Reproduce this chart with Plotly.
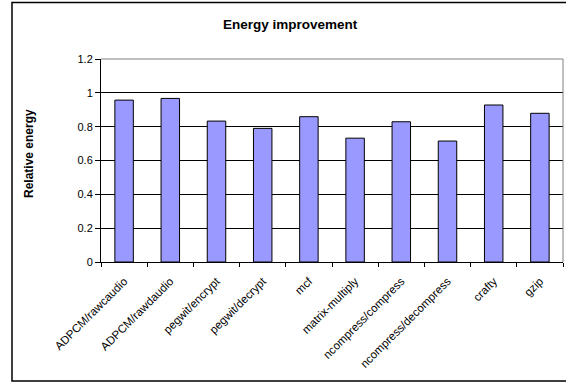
import plotly.graph_objects as go

categories = ["ADPCM/rawcaudio", "ADPCM/rawdaudio", "pegwit/encrypt", "pegwit/decrypt",
              "mcf", "matrix-multiply", "ncompress/compress", "ncompress/decompress",
              "crafty", "gzip"]
values = [0.957, 0.967, 0.833, 0.79, 0.859, 0.732, 0.829, 0.715, 0.928, 0.879]
y_ticks = [0, 0.2, 0.4, 0.6, 0.8, 1, 1.2]
y_tick_text = ["0", "0.2", "0.4", "0.6", "0.8", "1", "1.2"]

W, H = 566, 383
L, R, T, B = 101, 3, 59, 121
pw, ph = W - L - R, H - T - B

def px_x(p):
    return (p - L) / pw

def px_y(p):
    return (H - B - p) / ph

fig = go.Figure()
fig.add_trace(go.Bar(
    x=categories, y=values, width=0.40,
    marker=dict(color="#9999FF", line=dict(color="black", width=1)),
))

font = "Liberation Sans, Arial, sans-serif"
fig.update_layout(
    width=W, height=H,
    margin=dict(l=L, r=R, t=T, b=B),
    paper_bgcolor="white", plot_bgcolor="white",
    showlegend=False,
    font=dict(family=font, size=11, color="black"),
)
fig.update_xaxes(
    tickangle=-45, tickson="boundaries", ticks="outside", ticklen=4,
    tickcolor="black", showline=True, linecolor="black", linewidth=1,
    showgrid=False, tickfont=dict(size=11.5, family=font),
    ticklabelstandoff=7,
)
fig.update_yaxes(
    range=[0, 1.2], tickvals=y_ticks, ticktext=y_tick_text,
    ticks="outside", ticklen=5, tickcolor="black",
    showline=True, linecolor="black", linewidth=1,
    showgrid=True, gridcolor="black", gridwidth=1, zeroline=False,
    tickfont=dict(size=11, family=font),
)
# titles
fig.add_annotation(text="<b>Energy improvement</b>", xref="paper", yref="paper",
                   x=px_x(290), y=px_y(24), showarrow=False,
                   xanchor="center", yanchor="middle", font=dict(size=13.5, family=font))
fig.add_annotation(text="<b>Relative energy</b>", xref="paper", yref="paper",
                   x=px_x(29), y=px_y(154), showarrow=False, textangle=-90,
                   xanchor="center", yanchor="middle", font=dict(size=12, family=font))
# plot area top/right border (gray)
fig.add_shape(type="line", xref="paper", yref="paper", x0=0, x1=1, y0=1, y1=1,
              line=dict(color="#808080", width=1))
fig.add_shape(type="line", xref="paper", yref="paper", x0=1, x1=1, y0=0, y1=1,
              line=dict(color="#808080", width=1))
# outer chart frame (right edge lies beyond the visible area)
fig.add_shape(type="rect", xref="paper", yref="paper",
              x0=px_x(12), x1=px_x(620), y0=px_y(381), y1=px_y(2.5),
              line=dict(color="black", width=1.5), layer="below")

fig.write_html("out.html")
